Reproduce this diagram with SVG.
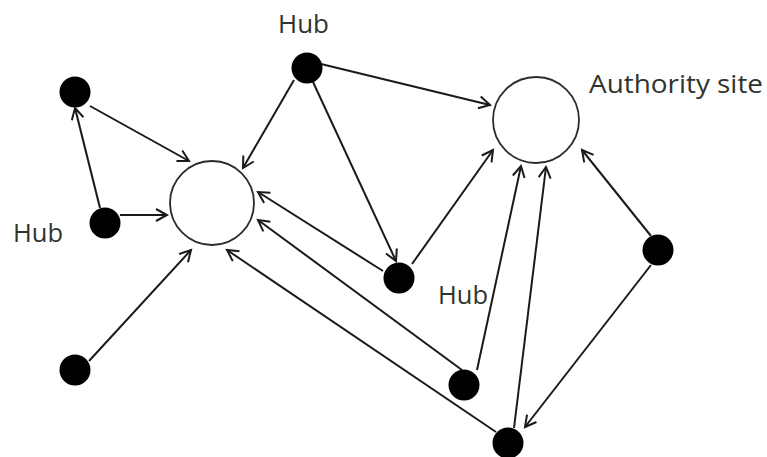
<svg xmlns="http://www.w3.org/2000/svg" width="767" height="457" viewBox="0 0 767 457">
  <defs>
    <style>
      .page { fill: #ffffff; }
      .site { fill: #ffffff; stroke: #2b2b2b; stroke-width: 1.8; }
      .page-dot { fill: #000000; }
      .link { stroke: #1a1a1a; stroke-width: 2; fill: none; marker-end: url(#open-arrow); }
      .label { font-family: "Open Sans", "DejaVu Sans", sans-serif; font-size: 25px; fill: #30342e; }
    </style>
    <marker id="open-arrow" markerUnits="userSpaceOnUse" markerWidth="16" markerHeight="16" viewBox="-13 -8 16 16" refX="0" refY="0" orient="auto">
      <path d="M -11 -6 L 0 0 L -11 6" fill="none" stroke="#1a1a1a" stroke-width="2" stroke-linejoin="miter"/>
    </marker>
  </defs>

  <rect class="page" x="0" y="0" width="767" height="457"/>

  <!-- links between pages -->
  <g id="connectors">
    <line class="link" x1="90" y1="106" x2="189" y2="161"/>
    <line class="link" x1="100" y1="208" x2="75" y2="108"/>
    <line class="link" x1="120" y1="215" x2="167" y2="215"/>
    <line class="link" x1="89" y1="361" x2="191" y2="250"/>
    <line class="link" x1="294" y1="80" x2="243" y2="168"/>
    <line class="link" x1="321" y1="64" x2="490" y2="105"/>
    <line class="link" x1="313" y1="82" x2="396" y2="261"/>
    <line class="link" x1="412" y1="264" x2="493" y2="150"/>
    <line class="link" x1="383" y1="271" x2="258" y2="192"/>
    <line class="link" x1="462" y1="370" x2="258" y2="220"/>
    <line class="link" x1="477" y1="370" x2="521" y2="166"/>
    <line class="link" x1="496" y1="432" x2="227" y2="250"/>
    <line class="link" x1="514" y1="428" x2="546" y2="167"/>
    <line class="link" x1="651" y1="236" x2="582" y2="150"/>
    <line class="link" x1="651" y1="265" x2="525" y2="427"/>
  </g>

  <!-- authority sites -->
  <g id="authority-left">
    <circle class="site" cx="212" cy="203" r="42"/>
  </g>
  <g id="authority-right">
    <circle class="site" cx="536" cy="120" r="43"/>
    <text class="label" x="589" y="93" textLength="174" lengthAdjust="spacingAndGlyphs">Authority site</text>
  </g>

  <!-- pages -->
  <g id="page-a"><circle class="page-dot" cx="75" cy="92" r="15.5"/></g>
  <g id="page-b">
    <circle class="page-dot" cx="105" cy="223" r="15.5"/>
    <text class="label" x="13" y="242" textLength="50" lengthAdjust="spacingAndGlyphs">Hub</text>
  </g>
  <g id="page-c"><circle class="page-dot" cx="75" cy="370" r="15.5"/></g>
  <g id="page-d">
    <circle class="page-dot" cx="307" cy="68" r="15.5"/>
    <text class="label" x="278" y="33" textLength="51" lengthAdjust="spacingAndGlyphs">Hub</text>
  </g>
  <g id="page-e">
    <circle class="page-dot" cx="399" cy="278" r="15.5"/>
    <text class="label" x="438" y="304" textLength="50" lengthAdjust="spacingAndGlyphs">Hub</text>
  </g>
  <g id="page-f"><circle class="page-dot" cx="464" cy="385" r="15.5"/></g>
  <g id="page-g"><circle class="page-dot" cx="508" cy="443" r="15.5"/></g>
  <g id="page-h"><circle class="page-dot" cx="658" cy="250" r="15.5"/></g>
</svg>
